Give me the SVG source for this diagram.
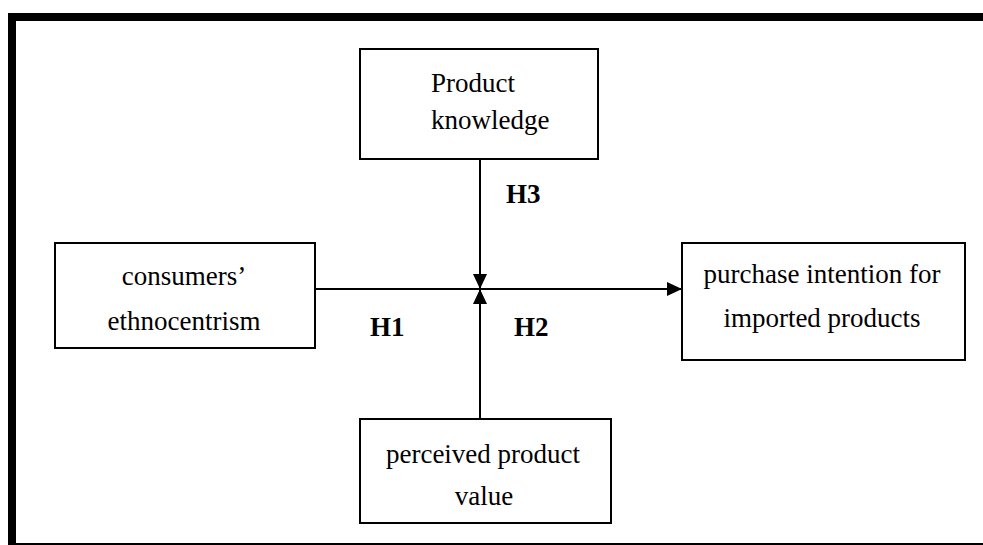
<svg xmlns="http://www.w3.org/2000/svg" width="983" height="545" viewBox="0 0 983 545">
<style>
.box{fill:#fff;stroke:#000;stroke-width:2}
.t{font-family:"Liberation Serif","Times New Roman",serif;font-size:27px;fill:#000}
.c{text-anchor:middle}
.h{font-family:"Liberation Serif","Times New Roman",serif;font-size:27px;font-weight:bold;fill:#000}
.ln{stroke:#000;stroke-width:2;fill:none}
</style>
<defs>
<marker id="ah" markerWidth="16" markerHeight="14" refX="15" refY="7" orient="auto" markerUnits="userSpaceOnUse">
<path d="M0,0 L15,7 L0,14 Z" fill="#000"/>
</marker>
</defs>
<rect width="983" height="545" fill="#fff"/>
<g id="frame">
<rect x="8" y="13" width="975" height="8" fill="#000"/>
<rect x="8" y="13" width="8" height="532" fill="#000"/>
<rect x="8" y="543" width="975" height="2" fill="#000"/>
</g>
<g id="connectors">
<line class="ln" x1="315" y1="289" x2="682" y2="289" marker-end="url(#ah)"/>
<line class="ln" x1="480" y1="159" x2="480" y2="289" marker-end="url(#ah)"/>
<line class="ln" x1="480" y1="419" x2="480" y2="289" marker-end="url(#ah)"/>
<text class="h" x="506" y="203">H3</text>
<text class="h" x="370" y="336">H1</text>
<text class="h" x="514" y="336">H2</text>
</g>
<g id="product-knowledge">
<rect class="box" x="360" y="49" width="238" height="110"/>
<text class="t" x="431" y="92">Product</text>
<text class="t" x="431" y="129">knowledge</text>
</g>
<g id="consumers-ethnocentrism">
<rect class="box" x="55" y="243" width="260" height="105"/>
<text class="t c" x="184" y="285">consumers’</text>
<text class="t c" x="184" y="330">ethnocentrism</text>
</g>
<g id="purchase-intention">
<rect class="box" x="682" y="243" width="283" height="117"/>
<text class="t c" x="822" y="283">purchase intention for</text>
<text class="t c" x="822" y="327">imported products</text>
</g>
<g id="perceived-value">
<rect class="box" x="360" y="419" width="251" height="104"/>
<text class="t c" x="483" y="463">perceived product</text>
<text class="t c" x="484" y="505">value</text>
</g>
</svg>
